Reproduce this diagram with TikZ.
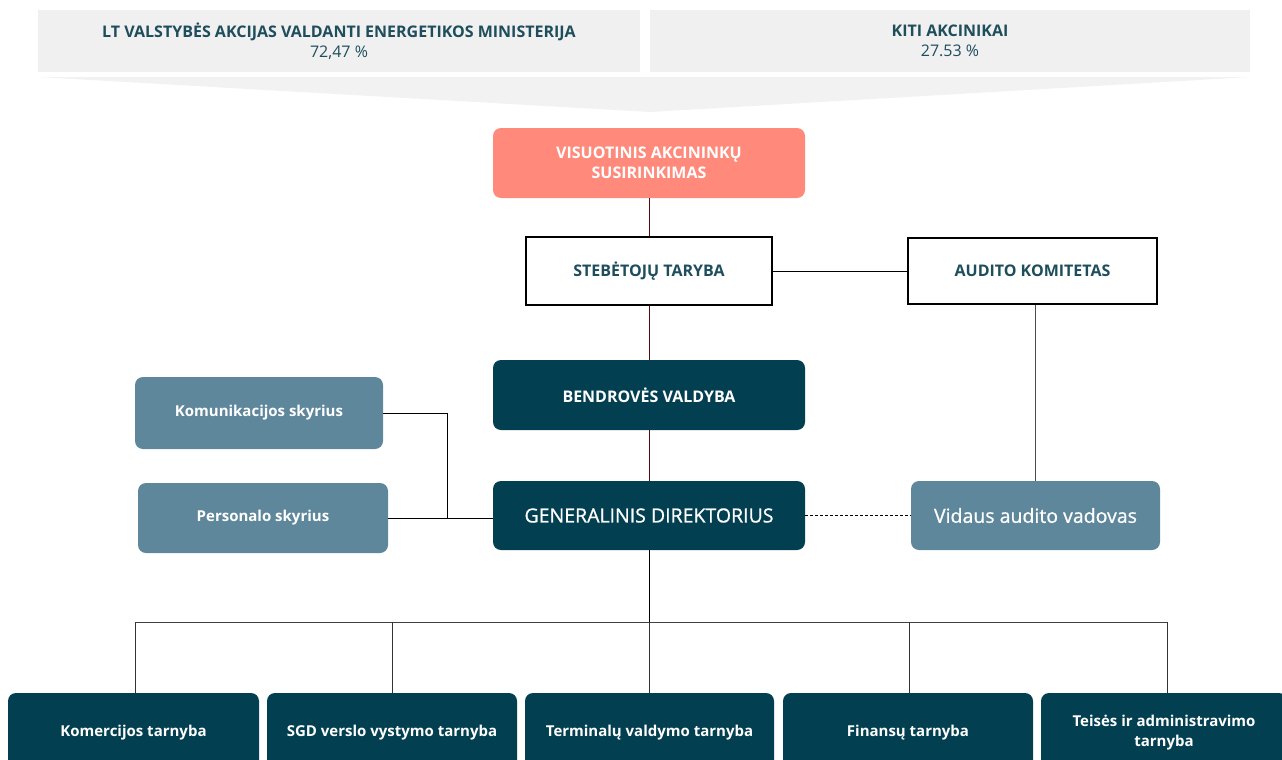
\documentclass[tikz,border=0pt]{standalone}
\usepackage{fontspec}
\setmainfont{Open Sans}
\newfontface\semib{Open Sans}[FakeBold=0.8]
\definecolor{teal}{HTML}{023F51}
\definecolor{midteal}{HTML}{5E879C}
\definecolor{salmon}{HTML}{FF897A}
\definecolor{topgray}{HTML}{F0F0F0}
\definecolor{txt}{HTML}{1E4D5C}
\definecolor{maroon}{HTML}{5A0A0A}
\newcommand{\capsfont}{\bfseries\fontsize{16}{20}\selectfont}
\newcommand{\lowfont}{\bfseries\fontsize{15}{20}\selectfont}
\newcommand{\bigfont}{\semib\fontsize{19.5}{22}\selectfont}
\tikzset{
  box/.style={rounded corners=8pt, inner sep=2pt, align=center, text=white},
  darkbox/.style={box, fill=teal},
  midbox/.style={box, fill=midteal},
  whitebox/.style={draw=black, line width=2pt, fill=white, align=center, text=txt, font=\capsfont},
  graybox/.style={fill=topgray, align=center, text=txt, inner sep=0pt, font=\fontsize{16}{20}\selectfont},
  link/.style={line width=1pt, black},
  redlink/.style={line width=1pt, maroon},
  svc/.style={darkbox, minimum width=250pt, minimum height=80pt, font=\lowfont},
}
\begin{document}
\begin{tikzpicture}[x=1pt,y=-1pt]
\useasboundingbox (0,0) rectangle (1282,760);
\path[clip] (0,0) rectangle (1282,760);
% shareholder boxes
\node[graybox, minimum width=602pt, minimum height=62pt] (ministry) at (339,41)
  {{\bfseries LT VALSTYBĖS AKCIJAS VALDANTI ENERGETIKOS MINISTERIJA}\\72,47 \%};
\node[graybox, minimum width=600pt, minimum height=62pt] (others) at (950,41)
  {{\bfseries KITI AKCINIKAI}\\27.53 \%};
\fill[topgray!85!white] (38,77) -- (1250,77) -- (650,112) -- cycle;
% governance
\node[box, fill=salmon, minimum width=312pt, minimum height=70pt, font=\capsfont] (gsm) at (649,163)
  {VISUOTINIS AKCININKŲ\\SUSIRINKIMAS};
\node[whitebox, minimum width=246pt, minimum height=68pt] (sb) at (649,271) {STEBĖTOJŲ TARYBA};
\node[whitebox, minimum width=249pt, minimum height=66pt] (ac) at (1032.5,271) {AUDITO KOMITETAS};
\node[darkbox, minimum width=312pt, minimum height=70pt, font=\capsfont] (board) at (649,395) {BENDROVĖS VALDYBA};
\node[darkbox, minimum width=312pt, minimum height=69pt, font=\bigfont] (ceo) at (649,515.5) {GENERALINIS DIREKTORIUS};
\node[midbox, minimum width=248pt, minimum height=72pt, font=\lowfont] (kom) at (259,413) {Komunikacijos skyrius};
\node[midbox, minimum width=250pt, minimum height=70pt, font=\lowfont] (pers) at (263,518) {Personalo skyrius};
\node[midbox, minimum width=249pt, minimum height=69pt, font=\bigfont] (ia) at (1035.5,515.5) {Vidaus audito vadovas};
% bottom services
\node[svc, minimum width=251pt] (s1) at (133.5,733) {Komercijos tarnyba};
\node[svc] (s2) at (392,733) {SGD verslo vystymo tarnyba};
\node[svc, minimum width=249pt] (s3) at (649.5,733) {Terminalų valdymo tarnyba};
\node[svc] (s4) at (908,733) {Finansų tarnyba};
\node[svc, minimum width=246pt] (s5) at (1164,733) {Teisės ir administravimo\\tarnyba};
% connectors
\draw[redlink] (gsm.south) -- (sb.north);
\draw[redlink] (sb.south) -- (board.north);
\draw[redlink] (board.south) -- (ceo.north);
\draw[link] (sb.east) -- (ac.west);
\draw[link, black!70] (ac.south -| ia.north) -- (ia.north);
\draw[link, dashed, dash pattern=on 3pt off 2pt] (ceo.east) -- (ia.west);
\coordinate (kj) at (447,518);
\draw[link] (kom.east) -| (kj);
\draw[link] (pers.east |- kj) -- (ceo.west |- kj);
\coordinate (bus) at (649,622);
\draw[link] (ceo.south) -- (bus);
\draw[link, black!75] (135,622) -- (1167,622);
\draw[link, black!80] (135,622) -- (s1.north -| 135,0);
\draw[link, black!80] (392,622) -- (s2.north);
\draw[link, black!80] (649,622) -- (s3.north -| 649,0);
\draw[link, black!80] (909,622) -- (s4.north -| 909,0);
\draw[link, black!80] (1167,622) -- (s5.north -| 1167,0);
\end{tikzpicture}
\end{document}
